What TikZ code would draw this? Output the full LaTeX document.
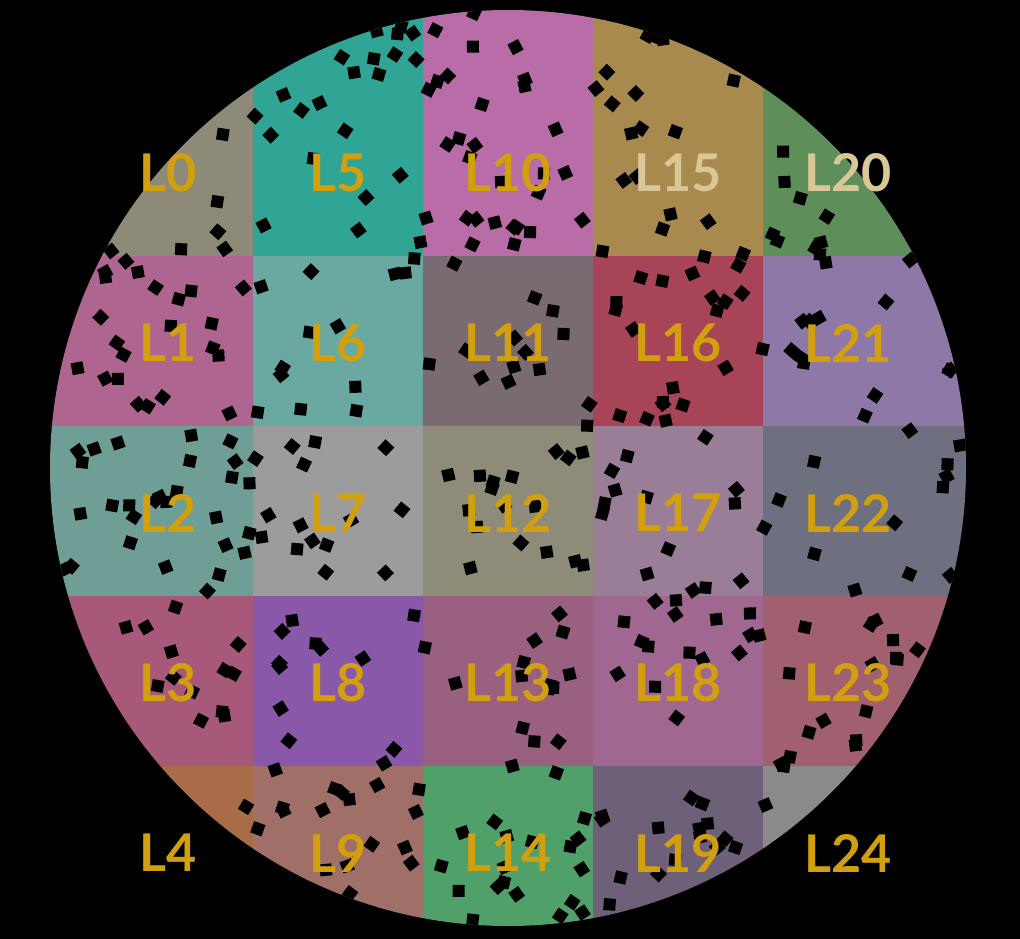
\documentclass[tikz,border=0pt]{standalone}
\usepackage{fontspec}
\setmainfont{Lato}
\usepackage{tikz}

\definecolor{cell0}{HTML}{8E8A78}
\definecolor{cell1}{HTML}{AE6690}
\definecolor{cell2}{HTML}{6E9E96}
\definecolor{cell3}{HTML}{A85878}
\definecolor{cell4}{HTML}{A86C48}
\definecolor{cell5}{HTML}{30A595}
\definecolor{cell6}{HTML}{6AA8A2}
\definecolor{cell7}{HTML}{9C9C9C}
\definecolor{cell8}{HTML}{8A58A8}
\definecolor{cell9}{HTML}{A07068}
\definecolor{cell10}{HTML}{B86CA8}
\definecolor{cell11}{HTML}{7A6A72}
\definecolor{cell12}{HTML}{8E8C78}
\definecolor{cell13}{HTML}{9A6080}
\definecolor{cell14}{HTML}{50A06A}
\definecolor{cell15}{HTML}{A88A4E}
\definecolor{cell16}{HTML}{A84458}
\definecolor{cell17}{HTML}{9A7E98}
\definecolor{cell18}{HTML}{A06890}
\definecolor{cell19}{HTML}{6E6078}
\definecolor{cell20}{HTML}{5E8F5A}
\definecolor{cell21}{HTML}{8E78A8}
\definecolor{cell22}{HTML}{6E7080}
\definecolor{cell23}{HTML}{A06070}
\definecolor{cell24}{HTML}{8A8A8A}
\definecolor{gold}{HTML}{D2A00E}
\definecolor{tan}{HTML}{D9C795}

\tikzset{
  lbl/.style={text=gold, font=\fontsize{52}{60}\selectfont\bfseries, inner sep=0pt, anchor=center},
  lbllight/.style={lbl, text=tan},
  speck/.style={fill=black}
}

\begin{document}
\begin{tikzpicture}[x=1pt, y=-1pt]
    \fill[black] (0,0) rectangle (1020,939); % background
\useasboundingbox (0,0) rectangle (1020,939);
\begin{scope}
\clip (508,468) circle (458); % wafer
\foreach \c in {0,...,4} {
  \foreach \r in {0,...,4} {
    \pgfmathtruncatemacro\k{5*\c+\r}
    \pgfmathsetmacro\xa{\c==0 ? 0 : 83+170*\c}
    \pgfmathsetmacro\xb{\c==4 ? 1020 : 253+170*\c}
    \pgfmathsetmacro\ya{\r==0 ? 0 : 86+170*\r}
    \pgfmathsetmacro\yb{\r==4 ? 939 : 256+170*\r}
    \fill[cell\k] (\xa,\ya) rectangle (\xb,\yb); % cell
  }
}
\pgfmathsetseed{4711}
\foreach \s in {1,...,380} {
  \pgfmathsetmacro\ang{360*rnd}
  \pgfmathsetmacro\rad{458*sqrt(rnd)}
  \pgfmathsetmacro\rot{90*rnd}
  \pgfmathsetmacro\px{508+\rad*cos(\ang)}
  \pgfmathsetmacro\py{468+\rad*sin(\ang)}
  \fill[speck, rotate around={\rot:(\px,\py)}] (\px-6,\py-6) rectangle (\px+6,\py+6); % speck
}
\end{scope}
\foreach \c in {0,...,4} {
  \foreach \r in {0,...,4} {
    \pgfmathtruncatemacro\k{5*\c+\r}
    \ifnum\k=15 \node[lbllight] (L\k) at (168+170*\c, 173+170*\r) {L\k};
    \else\ifnum\k=20 \node[lbllight] (L\k) at (168+170*\c, 173+170*\r) {L\k};
    \else \node[lbl] (L\k) at (168+170*\c, 173+170*\r) {L\k};
    \fi\fi
  }
}
    \end{tikzpicture}
\end{document}
